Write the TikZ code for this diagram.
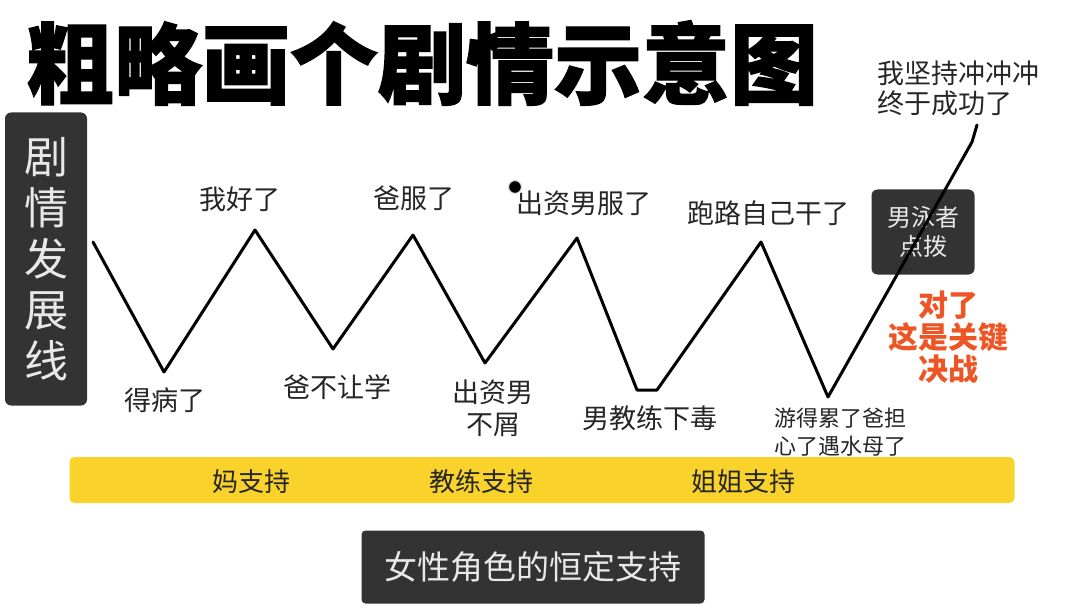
\documentclass[tikz,border=0pt]{standalone}
\usepackage{fontspec}
\usetikzlibrary{positioning}
\newfontfamily\cjk{Noto Sans CJK SC}
\newfontfamily\cjkheavy[BoldFeatures={FakeBold=1.5}]{Noto Sans CJK SC}
\definecolor{PlotDark}{HTML}{333333}
\definecolor{PlotLight}{HTML}{E8E8E8}
\definecolor{PlotText}{HTML}{262626}
\definecolor{PlotYellow}{HTML}{F9D22B}
\definecolor{PlotOrange}{HTML}{EE5524}
\tikzset{
    % Box styles
    darkbox/.style={
        rectangle,
        rounded corners=6pt,
        fill=PlotDark,
        text=PlotLight,
        align=center,
        inner sep=0pt
    },
    supportbar/.style={
        rectangle,
        rounded corners=5pt,
        fill=PlotYellow,
        inner sep=0pt,
        minimum width=945pt,
        minimum height=46pt
    },
    % Text styles
    plotlabel/.style={
        font=\cjk\fontsize{27}{32}\selectfont,
        text=PlotText,
        align=center,
        inner sep=0pt
    },
    smalllabel/.style={
        plotlabel,
        font=\cjk\fontsize{22}{28}\selectfont
    },
    keylabel/.style={
        font=\cjk\bfseries\fontsize{30}{32}\selectfont,
        text=PlotOrange,
        align=center,
        inner sep=0pt
    },
    cursordot/.style={
        circle,
        fill=black,
        draw=black!12,
        line width=1.2pt,
        minimum size=13pt,
        inner sep=0pt
    },
    % Line style
    plotline/.style={
        draw=black,
        line width=3pt,
        line join=round,
        line cap=round
    }
}

\begin{document}
\begin{tikzpicture}[x=1pt, y=-1pt]
    \useasboundingbox[fill=white] (0,0) rectangle (1080,607);

    \node[inner sep=0pt, font=\cjkheavy\bfseries\fontsize{88}{88}\selectfont] (title) at (422,63) {粗略画个剧情示意图};

    \node[darkbox, minimum width=82pt, minimum height=293pt, font=\cjk\fontsize{44}{51}\selectfont] (axis) at (46,259) {剧\\情\\发\\展\\线};

    \node[darkbox, minimum width=103pt, minimum height=85pt, font=\cjk\fontsize{24}{29}\selectfont] (coach) at (923,232) {男泳者\\点拨};

    % plot line
    \coordinate (s) at (93,242);
    \coordinate (v1) at (164,372);
    \coordinate (p1) at (255,230);
    \coordinate (v2) at (333,349);
    \coordinate (p2) at (413,235);
    \coordinate (v3) at (485,363);
    \coordinate (p3) at (577,238);
    \coordinate (v4a) at (637,390);
    \coordinate (v4b) at (657,390);
    \coordinate (p4) at (761,242);
    \coordinate (v5) at (828,397);
    \coordinate (e1) at (972,142);
    \coordinate (e2) at (977,125);
    \draw[plotline] (s) -- (v1) -- (p1) -- (v2) -- (p2) -- (v3) -- (p3) -- (v4a) -- (v4b) -- (p4) -- (v5) -- (e1) -- (e2);

    % peaks
    \node[plotlabel] (good) at (240,199) {我好了};
    \node[plotlabel] (dadok) at (414,198) {爸服了};
    \node[plotlabel] (funderok) at (584,203) {出资男服了};
    \node[plotlabel] (runaway) at (768,213) {跑路自己干了};
    \node[cursordot] (dot) at (515,187) {};

    % valleys
    \node[plotlabel] (sick) at (165,400) {得病了};
    \node[plotlabel] (dadno) at (337,387) {爸不让学};
    \node[plotlabel] (funderno) at (493,408) {出资男\\不屑};
    \node[plotlabel] (poison) at (650,418) {男教练下毒};
    \node[smalllabel] (tired) at (840,432) {游得累了爸担\\心了遇水母了};

    \node[plotlabel, anchor=west, align=left, font=\cjk\fontsize{27}{30}\selectfont] (success) at (877,88) {我坚持冲冲冲\\终于成功了};
    \node[keylabel] (key) at (948,337) {对了\\这是关键\\决战};

    % support bar
    \node[supportbar] (bar) at (542,480) {};
    \node[plotlabel, font=\cjk\fontsize{26}{30}\selectfont] (mom) at (251,482) {妈支持};
    \node[plotlabel, font=\cjk\fontsize{26}{30}\selectfont] (coachsup) at (481,482) {教练支持};
    \node[plotlabel, font=\cjk\fontsize{26}{30}\selectfont] (sister) at (743,482) {姐姐支持};

    \node[darkbox, rounded corners=4pt, minimum width=343pt, minimum height=73pt, font=\cjk\fontsize{33}{36}\selectfont] (female) at (533,567) {女性角色的恒定支持};
\end{tikzpicture}
\end{document}
